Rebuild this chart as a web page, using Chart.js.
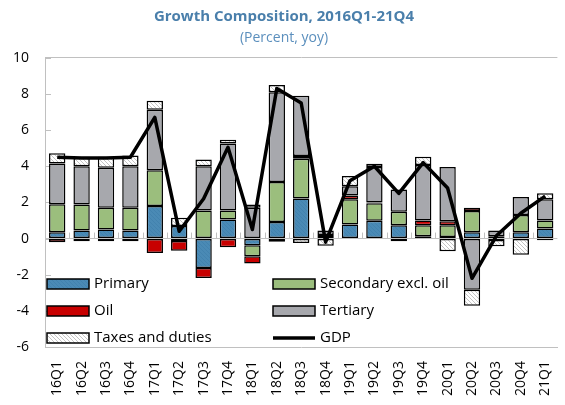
<!DOCTYPE html>
<html>
<head>
<meta charset="utf-8">
<script src="https://cdn.jsdelivr.net/npm/chart.js@4.4.1/dist/chart.umd.min.js"></script>
<style>
  html, body { margin: 0; padding: 0; background: #fff; overflow: hidden; }
  #wrap { width: 568px; height: 405px; }
</style>
</head>
<body>
<div id="wrap"><canvas id="chart" width="568" height="405"></canvas></div>
<script>
// Données (points de %, g.a.)
const quarters = ["16Q1", "16Q2", "16Q3", "16Q4", "17Q1", "17Q2", "17Q3", "17Q4",
  "18Q1", "18Q2", "18Q3", "18Q4", "19Q1", "19Q2", "19Q3", "19Q4",
  "20Q1", "20Q2", "20Q3", "20Q4", "21Q1"];

const primary = [0.35, 0.44, 0.5, 0.44, 1.8, 0.7, -1.63, 1.05, -0.37, 0.92, 2.22, 0.08,
  0.78, 0.98, 0.74, 0.13, 0.09, 0.35, 0.13, 0.35, 0.56];
const secondary = [1.55, 1.44, 1.2, 1.26, 1.98, -0.13, 1.55, 0.5, -0.61, 2.21, 2.2, 0,
  1.39, 0.97, 0.74, 0.61, 0.65, 1.17, -0.08, 0.95, 0.44];
const oil = [-0.2, -0.15, -0.15, -0.15, -0.8, -0.55, -0.55, -0.48, -0.4, -0.18, 0.15, 0.12,
  0.21, 0.05, 0, 0.26, 0.22, 0.18, 0, 0, -0.1];
const tertiary = [2.25, 2.12, 2.22, 2.3, 3.35, 0, 2.45, 3.71, 1.7, 4.96, 3.33, 0.25,
  0.52, 1.96, 1.24, 3.07, 3.0, -2.83, 0.31, 1.0, 1.17];
const taxes = [0.57, 0.52, 0.6, 0.6, 0.5, 0.45, 0.37, 0.2, 0.19, 0.41, -0.24, -0.4,
  0.56, 0.18, -0.15, 0.45, -0.7, -0.89, -0.35, -0.89, 0.33];
const gdp = [4.5, 4.45, 4.45, 4.5, 6.7, 0.4, 2.2, 5.05, 0.5, 8.3, 7.5, -0.2,
  3.2, 4.0, 2.5, 4.2, 2.8, -2.2, 0.15, 1.4, 2.35];

const yTicks = [-6, -4, -2, 0, 2, 4, 6, 8, 10];

// Couleurs
const BLUE = "#4a8ab5";
const GREEN = "#9bbe7d";
const RED = "#c80000";
const GREY = "#a7a8ad";
const AXIS_GREY = "#c0c0c0";
const TITLE_BLUE = "#4a7fab";
const FONT = "'Open Sans', sans-serif";

// Motifs hachurés
function makePattern(bg, line, size, width) {
  const c = document.createElement("canvas");
  c.width = size; c.height = size;
  const g = c.getContext("2d");
  g.fillStyle = bg;
  g.fillRect(0, 0, size, size);
  g.strokeStyle = line;
  g.lineWidth = width;
  g.beginPath();
  g.moveTo(0, 0); g.lineTo(size, size);
  g.moveTo(-1, size - 1); g.lineTo(1, size + 1);
  g.moveTo(size - 1, -1); g.lineTo(size + 1, 1);
  g.stroke();
  return g.createPattern(c, "repeat");
}
const ctx = document.getElementById("chart").getContext("2d");
const HATCH = makePattern("#ffffff", "#bdbdbd", 4, 0.9);
const BLUE_PAT = makePattern(BLUE, "#4282ae", 4, 1);

function barSet(label, data, color) {
  return {
    type: "bar", label, data, stack: "growth", order: 2,
    backgroundColor: color, borderColor: "#000", borderWidth: 1.5,
    borderSkipped: false, barPercentage: 1, categoryPercentage: 0.67
  };
}

// Repères de l'axe : ligne zéro avec petites graduations + graduations y internes + légende
const decorations = {
  id: "decorations",
  beforeDatasetsDraw(chart) {
    const { ctx, chartArea, scales } = chart;
    const y = scales.y;
    const y0 = y.getPixelForValue(0);
    const step = (chartArea.right - chartArea.left) / quarters.length;
    ctx.save();
    ctx.strokeStyle = AXIS_GREY;
    ctx.lineWidth = 1;
    ctx.beginPath();
    for (let i = 1; i < quarters.length; i++) {
      const px = Math.round(chartArea.left + i * step) + 0.5;
      ctx.moveTo(px, y0); ctx.lineTo(px, y0 - 6);
    }
    yTicks.forEach((v) => {
      const py = Math.round(y.getPixelForValue(v)) + 0.5;
      ctx.moveTo(chartArea.left, py); ctx.lineTo(chartArea.left + 6, py);
    });
    ctx.stroke();
    ctx.restore();
  },
  afterDraw(chart) {
    const { ctx } = chart;
    const items = [
      { label: "Primary", fill: BLUE_PAT, x: 47, y: 284 },
      { label: "Secondary excl. oil", fill: GREEN, x: 273, y: 284 },
      { label: "Oil", fill: RED, x: 47, y: 311 },
      { label: "Tertiary", fill: GREY, x: 273, y: 311 },
      { label: "Taxes and duties", fill: HATCH, x: 47, y: 338 },
      { label: "GDP", line: true, x: 273, y: 338 }
    ];
    ctx.save();
    ctx.font = "15px " + FONT;
    ctx.textBaseline = "middle";
    items.forEach((it) => {
      if (it.line) {
        ctx.strokeStyle = "#000";
        ctx.lineWidth = 3.5;
        ctx.beginPath();
        ctx.moveTo(it.x, it.y); ctx.lineTo(it.x + 42, it.y);
        ctx.stroke();
      } else {
        ctx.fillStyle = it.fill;
        ctx.fillRect(it.x, it.y - 5, 42, 10);
        ctx.strokeStyle = "#000";
        ctx.lineWidth = 1.5;
        ctx.strokeRect(it.x, it.y - 5, 42, 10);
      }
      ctx.fillStyle = "#000";
      ctx.fillText(it.label, it.x + 47, it.y);
    });
    ctx.restore();
  }
};

new Chart(ctx, {
  data: {
    labels: quarters,
    datasets: [
      {
        type: "line", label: "GDP", data: gdp, stack: "gdp", order: 1,
        borderColor: "#000", borderWidth: 3.5, pointRadius: 0,
        tension: 0, borderJoinStyle: "round", fill: false
      },
      barSet("Primary", primary, BLUE_PAT),
      barSet("Secondary excl. oil", secondary, GREEN),
      barSet("Oil", oil, RED),
      barSet("Tertiary", tertiary, GREY),
      barSet("Taxes and duties", taxes, HATCH)
    ]
  },
  options: {
    responsive: false,
    animation: false,
    layout: { padding: { left: 0, right: 0, top: 0, bottom: 0 } },
    scales: {
      x: {
        stacked: true,
        grid: { display: false },
        border: { display: true, color: AXIS_GREY, width: 1 },
        ticks: {
          color: "#000", font: { size: 14, family: FONT },
          maxRotation: 90, minRotation: 90, autoSkip: false, padding: 6
        },
        afterFit(scale) { scale.height = 58; }
      },
      y: {
        stacked: true,
        min: -6, max: 10,
        afterBuildTicks(scale) { scale.ticks = yTicks.map((v) => ({ value: v })); },
        grid: {
          drawTicks: false,
          color: (c) => (c.tick && (c.tick.value === 0 || c.tick.value === 10) ? AXIS_GREY : "transparent")
        },
        border: { display: true, color: AXIS_GREY, width: 1 },
        ticks: { color: "#000", font: { size: 14, family: FONT }, padding: 16 },
        afterFit(scale) { scale.width = 45; }
      }
    },
    plugins: {
      legend: { display: false },
      tooltip: { enabled: false },
      title: {
        display: true, text: "Growth Composition, 2016Q1-21Q4",
        color: TITLE_BLUE, font: { size: 15, weight: "bold", family: FONT },
        padding: { top: 8, bottom: 4 }
      },
      subtitle: {
        display: true, text: "(Percent, yoy)",
        color: "#5b8fbd", font: { size: 14, family: FONT },
        padding: { top: 0, bottom: 11 }
      }
    }
  },
  plugins: [decorations]
});
</script>
</body>
</html>
